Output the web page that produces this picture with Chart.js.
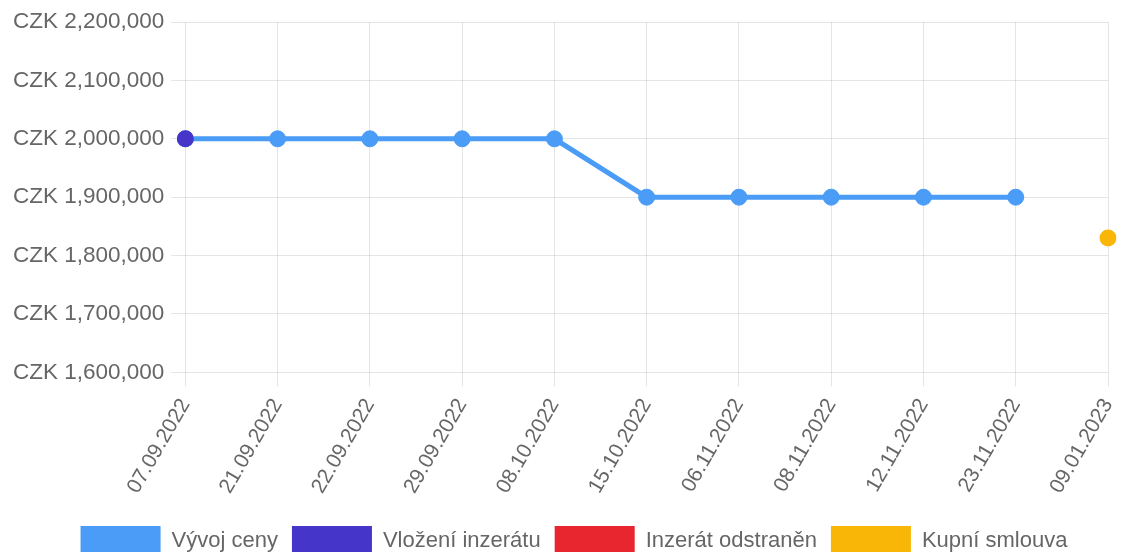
<!DOCTYPE html>
<html>
<head>
<meta charset="utf-8">
<script src="https://cdn.jsdelivr.net/npm/chart.js@4/dist/chart.umd.min.js"></script>
<style>
  html, body { margin: 0; padding: 0; background: #fff; overflow: hidden; }
  #wrap { width: 1128px; height: 566px; }
</style>
</head>
<body>
<div id="wrap"><canvas id="priceChart"></canvas></div>
<script>
const labels = ['07.09.2022', '21.09.2022', '22.09.2022', '29.09.2022', '08.10.2022',
                '15.10.2022', '06.11.2022', '08.11.2022', '12.11.2022', '23.11.2022', '09.01.2023']
const priceHistory = [2000000, 2000000, 2000000, 2000000, 2000000,
                      1900000, 1900000, 1900000, 1900000, 1900000, null]
const listingAdded = [2000000, null, null, null, null, null, null, null, null, null, null]
const listingRemoved = [null, null, null, null, null, null, null, null, null, null, null]
const purchaseContract = [null, null, null, null, null, null, null, null, null, null, 1830000]

const ctx = document.getElementById('priceChart')
const font = 'Liberation Sans, Arial, sans-serif'

/*========================== Data =============================*/
var data = {
    labels: labels,
    datasets: [
        {
            label: 'Vývoj ceny',
            data: priceHistory,
            borderColor: '#4a9cf6',
            backgroundColor: '#4a9cf6',
            borderWidth: 5,
            pointRadius: 8,
            pointBorderWidth: 1,
            pointHoverRadius: 8,
            tension: 0,
            order: 1
        },
        {
            label: 'Vložení inzerátu',
            data: listingAdded,
            borderColor: '#4535c8',
            backgroundColor: '#4535c8',
            showLine: false,
            pointRadius: 8.5,
            pointBorderWidth: 0,
            order: 0
        },
        {
            label: 'Inzerát odstraněn',
            data: listingRemoved,
            borderColor: '#e7262f',
            backgroundColor: '#e7262f',
            showLine: false,
            pointRadius: 8.5,
            pointBorderWidth: 0,
            order: 0
        },
        {
            label: 'Kupní smlouva',
            data: purchaseContract,
            borderColor: '#f9b606',
            backgroundColor: '#f9b606',
            showLine: false,
            pointRadius: 8.5,
            pointBorderWidth: 0,
            order: 0
        }
    ]
}

// nudge the legend row a little to the right, like the original
const legendShift = {
    id: 'legendShift',
    afterLayout(chart) {
        chart.legend.left += 7
        chart.legend.right += 7
    }
}

/*========================== Chart =============================*/
var config = {
    type: 'line',
    data: data,
    plugins: [legendShift],
    options: {
        responsive: true,
        maintainAspectRatio: false,
        animation: false,
        layout: { padding: { left: 6, right: 0, top: 22, bottom: 0 } },
        plugins: {
            legend: {
                position: 'bottom',
                // empty title only used as a spacer above the legend row
                title: { display: true, text: '', padding: 0, font: { size: 6, lineHeight: 1 } },
                labels: {
                    boxWidth: 80,
                    boxHeight: 30,
                    padding: 14,
                    color: '#666',
                    font: { family: font, size: 22 },
                    generateLabels: function (chart) {
                        return Chart.defaults.plugins.legend.labels.generateLabels(chart)
                            .map(function (item) { item.lineWidth = 0; return item })
                    },
                    sort: function (a, b) { return a.datasetIndex - b.datasetIndex }
                }
            },
            tooltip: { enabled: false }
        },
        scales: {
            x: {
                grid: { color: 'rgba(0,0,0,0.1)', tickLength: 14 },
                border: { display: false },
                afterFit: function (scale) { scale.paddingRight = 20 },
                ticks: {
                    color: '#666',
                    padding: 8,
                    minRotation: 60,
                    maxRotation: 60,
                    font: { family: font, size: 21 }
                }
            },
            y: {
                min: 1600000,
                max: 2200000,
                grid: { color: 'rgba(0,0,0,0.1)', tickLength: 14 },
                border: { display: false },
                ticks: {
                    stepSize: 100000,
                    color: '#666',
                    padding: 7,
                    font: { family: font, size: 22.5 },
                    callback: function (v) { return 'CZK ' + v.toLocaleString('en-US') }
                }
            }
        }
    }
}

var priceChart = new Chart(ctx, config)
</script>
</body>
</html>
